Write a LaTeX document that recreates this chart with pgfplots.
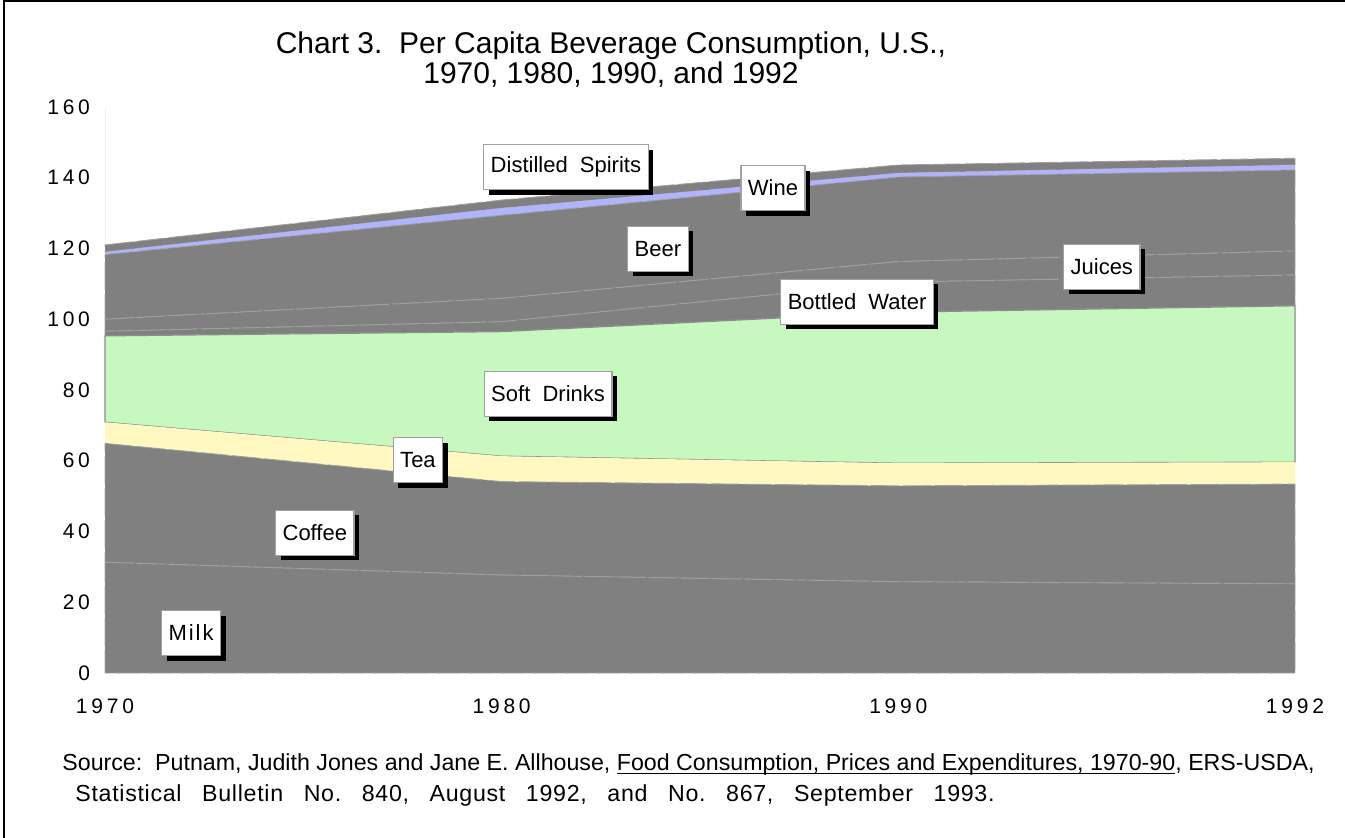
\documentclass[border=0pt]{standalone}
\usepackage{fontspec}
\setmainfont{Liberation Sans}
\newfontfamily\tickfont[LetterSpace=18]{Liberation Sans}
\newfontfamily\srcfont[LetterSpace=3]{Liberation Sans}
\usepackage{pgfplots}
\pgfplotsset{compat=1.18}
\usetikzlibrary{shadows}
\definecolor{areagray}{RGB}{128,128,128}
\definecolor{linegray}{RGB}{160,160,160}
\definecolor{softgreen}{RGB}{198,248,192}
\definecolor{teayellow}{RGB}{255,248,192}
\definecolor{wineblue}{RGB}{176,180,255}
\definecolor{boxgray}{RGB}{160,160,160}
\newcommand{\gap}{\hspace{10.3pt}}
\begin{document}
\begin{tikzpicture}[
  lbl/.style={draw=boxgray, line width=0.6pt, fill=white, inner xsep=3.5pt, minimum height=22.5pt,
     font=\fontsize{11}{13}\selectfont,
     drop shadow={shadow xshift=2.5pt, shadow yshift=-2.5pt, fill=black, opacity=1}}]
\begin{axis}[
  at={(52.5pt,-336.5pt)}, anchor=south west,
  width=595pt, height=283pt, scale only axis,
  xmin=0, xmax=3, ymin=0, ymax=160,
  xtick={0,1,2,3}, xticklabels={1970,1980,1990,1992},
  ytick={0,20,...,160},
  /pgf/number format/assume math mode=true,
  ticklabel style={font=\tickfont\fontsize{10.5}{12}\selectfont},
  xticklabel style={yshift=-9.5pt},
  yticklabel style={xshift=-4pt},
  axis x line*=bottom, axis y line*=left,
  axis line style={draw=gray!12},
  major tick length=0pt,
  stack plots=y,
  clip=false,
]
% Milk
\addplot[fill=areagray, draw=linegray, line width=0.45pt, dash pattern=on 14pt off 2pt] coordinates {(0,31.3) (1,27.7) (2,25.8) (3,25.2)} \closedcycle;
% Coffee
\addplot[fill=areagray, draw=linegray, line width=0.45pt, dash pattern=on 14pt off 2pt] coordinates {(0,33.6) (1,26.4) (2,27.1) (3,28.2)} \closedcycle;
% Tea
\addplot[fill=teayellow, draw=none] coordinates {(0,6.0) (1,7.2) (2,6.4) (3,6.2)} \closedcycle;
% Soft drinks
\addplot[fill=softgreen, draw=gray!90, line width=0.6pt] coordinates {(0,24.4) (1,35.2) (2,42.7) (3,44.2)} \closedcycle;
% Bottled water
\addplot[fill=areagray, draw=linegray, line width=0.45pt, dash pattern=on 14pt off 2pt] coordinates {(0,1.3) (1,2.8) (2,8.5) (3,8.7)} \closedcycle;
% Juices
\addplot[fill=areagray, draw=linegray, line width=0.45pt, dash pattern=on 14pt off 2pt] coordinates {(0,3.4) (1,6.6) (2,5.8) (3,6.8)} \closedcycle;
% Beer
\addplot[fill=areagray, draw=linegray, line width=0.45pt, dash pattern=on 14pt off 2pt] coordinates {(0,18.3) (1,23.5) (2,23.9) (3,22.9)} \closedcycle;
% Wine
\addplot[fill=wineblue, draw=none] coordinates {(0,0.7) (1,2.0) (2,1.1) (3,1.4)} \closedcycle;
% Distilled spirits
\addplot[fill=areagray, draw=linegray, line width=0.45pt, dash pattern=on 14pt off 2pt] coordinates {(0,2.0) (1,2.3) (2,2.3) (3,1.9)} \closedcycle;

\coordinate (lSp) at (axis cs:1.162,143.0);
\coordinate (lWi) at (axis cs:1.684,137.1);
\coordinate (lBe) at (axis cs:1.394,119.9);
\coordinate (lJu) at (axis cs:2.513,114.8);
\coordinate (lBW) at (axis cs:1.896,104.9);
\coordinate (lSD) at (axis cs:1.117,78.9);
\coordinate (lTe) at (axis cs:0.789,60.2);
\coordinate (lCo) at (axis cs:0.529,39.6);
\coordinate (lMi) at (axis cs:0.217,11.3);
\end{axis}
\node[lbl] at (lSp) {Distilled\ \ Spirits};
\node[lbl] at (lWi) {Wine};
\node[lbl] at (lBe) {Beer};
\node[lbl] at (lJu) {Juices};
\node[lbl] at (lBW) {Bottled\ \ Water};
\node[lbl] at (lSD) {Soft\ \ Drinks};
\node[lbl] at (lTe) {Tea};
\node[lbl] at (lCo) {Coffee};
\node[lbl] at (lMi) {M\kern1pt i\kern1pt l\kern1pt k};
\node[align=center, font=\fontsize{15}{15}\selectfont] at (305.5pt,-30pt)
  {Chart 3.\ \ Per Capita Beverage Consumption, U.S.,\\1970, 1980, 1990, and 1992};
\node[anchor=west, inner sep=0pt, font=\fontsize{11.6}{13}\selectfont] at (31pt,-382pt)
  {Source:\ \ Putnam, Judith Jones and Jane E. Allhouse, \underline{\smash{Food Consumption, Prices and Expenditures, 1970-90}}, ERS-USDA,};
\node[anchor=west, inner sep=0pt, font=\srcfont\fontsize{11.6}{13}\selectfont] at (37.5pt,-398pt)
  {Statistical\gap Bulletin\gap No.\gap 840,\gap August\gap 1992,\gap and\gap No.\gap 867,\gap September\gap 1993.};
\draw[line width=0.6pt] (2pt,-419pt) -- (2pt,-0.6pt);
\draw[line width=1.1pt] (1.5pt,-0.55pt) -- (672.5pt,-0.55pt);
\pgfresetboundingbox
\path[use as bounding box] (0pt,0pt) rectangle (672.5pt,-419pt);
\end{tikzpicture}
\end{document}
